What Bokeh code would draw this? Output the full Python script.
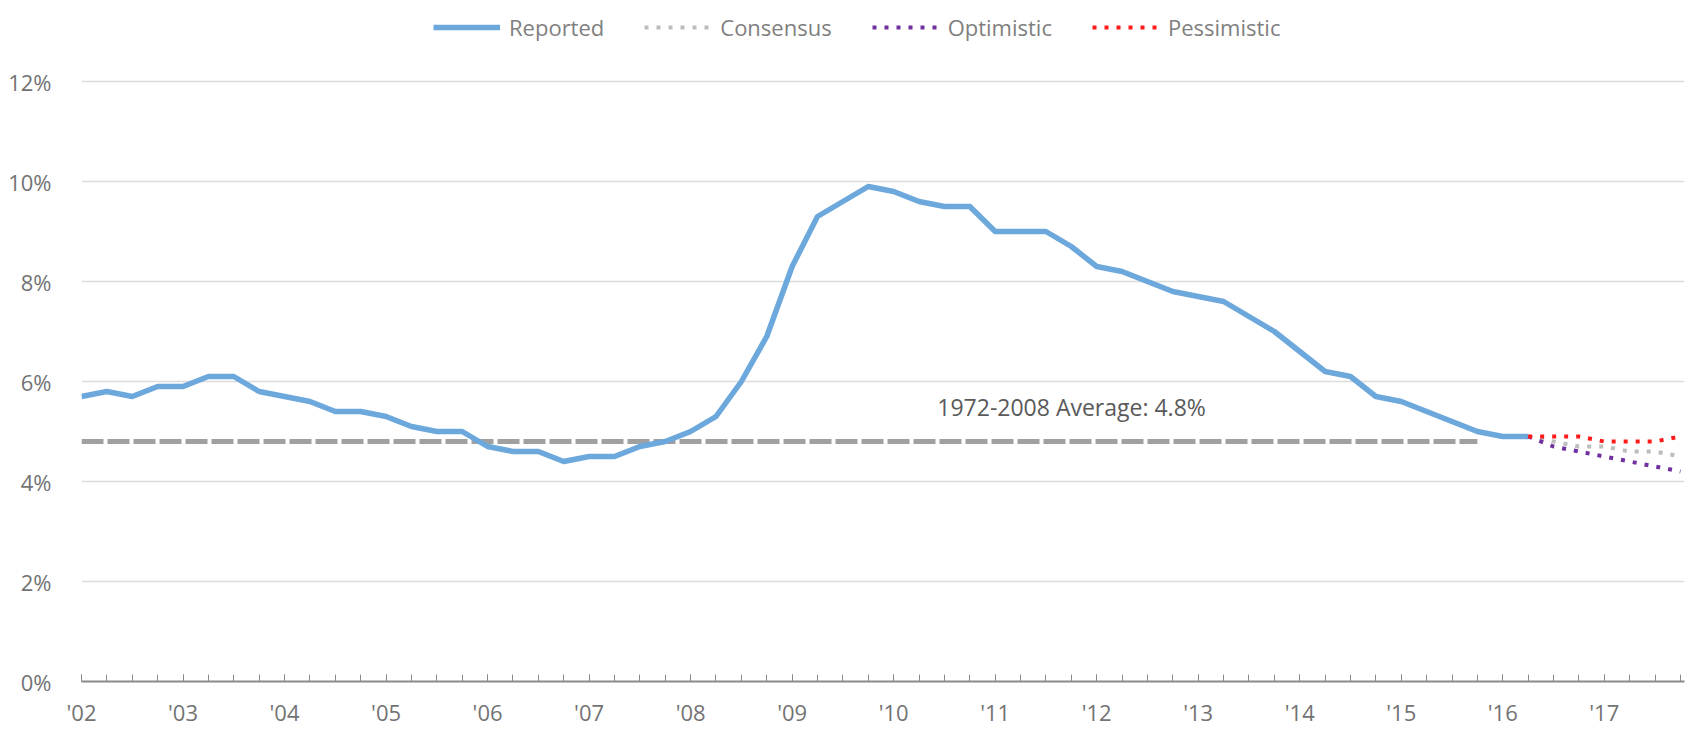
from bokeh.plotting import figure
from bokeh.models import Range1d, FixedTicker, Label, Legend
from bokeh.embed import file_html
from bokeh.resources import INLINE

# ---------------- data ----------------
reported_start = "2002Q1"
reported = [5.7, 5.8, 5.7, 5.9,
            5.9, 6.1, 6.1, 5.8,
            5.7, 5.6, 5.4, 5.4,
            5.3, 5.1, 5.0, 5.0,
            4.7, 4.6, 4.6, 4.4,
            4.5, 4.5, 4.7, 4.8,
            5.0, 5.3, 6.0, 6.9,
            8.3, 9.3, 9.6, 9.9,
            9.8, 9.6, 9.5, 9.5,
            9.0, 9.0, 9.0, 8.7,
            8.3, 8.2, 8.0, 7.8,
            7.7, 7.6, 7.3, 7.0,
            6.6, 6.2, 6.1, 5.7,
            5.6, 5.4, 5.2, 5.0,
            4.9, 4.9]
forecast_start = "2016Q2"
consensus = [4.9, 4.8, 4.7, 4.7, 4.6, 4.6, 4.5]
optimistic = [4.9, 4.7, 4.6, 4.5, 4.4, 4.3, 4.2]
pessimistic = [4.9, 4.9, 4.9, 4.8, 4.8, 4.8, 4.9]
average_value = 4.8
average_start = "2002Q1"
average_end = "2015Q4"
average_label = "1972-2008 Average: 4.8%"
years = list(range(2002, 2018))
year_labels = ["'02", "'03", "'04", "'05", "'06", "'07", "'08", "'09",
               "'10", "'11", "'12", "'13", "'14", "'15", "'16", "'17"]
y_ticks = [0, 2, 4, 6, 8, 10, 12]
y_labels = ["0%", "2%", "4%", "6%", "8%", "10%", "12%"]


def qpos(label):
    y, q = label.split("Q")
    return int(y) + (int(q) - 1) / 4.0


def series_x(start, n):
    s = qpos(start)
    return [s + i / 4.0 for i in range(n)]


x_rep = series_x(reported_start, len(reported))
x_fc = series_x(forecast_start, len(consensus))

FONT = "Open Sans"
TXT = "#737373"
FRAME_H = 681

p = figure(width=1692, height=728, frame_width=1603, frame_height=FRAME_H,
           min_border_left=81, min_border_right=8, min_border_top=0,
           min_border_bottom=47,
           x_range=Range1d(2002, 2017.79), y_range=Range1d(0, 13.62),
           output_backend="svg", toolbar_location=None)
p.outline_line_color = None
p.background_fill_color = "white"

# grid
p.xgrid.visible = False
p.ygrid.ticker = FixedTicker(ticks=y_ticks)
p.ygrid.grid_line_color = "#dcdcdc"
p.ygrid.grid_line_width = 1.5

# y axis
p.yaxis.ticker = FixedTicker(ticks=y_ticks)
p.yaxis.major_label_overrides = {t: l for t, l in zip(y_ticks, y_labels)}
p.yaxis.axis_line_color = None
p.yaxis.major_tick_line_color = None
p.yaxis.minor_tick_line_color = None
p.yaxis.major_label_standoff = 24
p.yaxis.major_label_text_font = FONT
p.yaxis.major_label_text_font_size = "22px"
p.yaxis.major_label_text_color = TXT

# x axis
quarters = [y + q / 4.0 for y in years for q in range(4)]
p.xaxis.ticker = FixedTicker(ticks=years, minor_ticks=quarters)
p.xaxis.major_label_overrides = {y: l for y, l in zip(years, year_labels)}
p.xaxis.axis_line_color = "#8a8a8a"
p.xaxis.axis_line_width = 2
p.xaxis.major_tick_in = 7
p.xaxis.major_tick_out = 0
p.xaxis.minor_tick_in = 7
p.xaxis.minor_tick_out = 0
p.xaxis.major_tick_line_color = "#8a8a8a"
p.xaxis.minor_tick_line_color = "#8a8a8a"
p.xaxis.major_label_standoff = 15
p.xaxis.major_label_text_font = FONT
p.xaxis.major_label_text_font_size = "22px"
p.xaxis.major_label_text_color = TXT

# average line
p.line([qpos(average_start), qpos(average_end)], [average_value, average_value],
       line_color="#a0a0a0", line_width=5, line_dash="22 4")

# reported and forecasts
r_rep = p.line(x_rep, reported, line_color="#6ca8dc", line_width=5.5,
               line_join="round")
r_con = p.line(x_fc, consensus, line_color="#bdbdbd", line_width=4,
               line_dash="4 8")
r_opt = p.line(x_fc, optimistic, line_color="#7030a0", line_width=4,
               line_dash="4 8")
r_pes = p.line(x_fc, pessimistic, line_color="#ff1a1a", line_width=4,
               line_dash="4 8")

p.add_layout(Label(x=2010.43, y=5.49, text=average_label, text_font=FONT,
                   text_font_size="23px", text_color="#5a5a5a",
                   text_baseline="middle", text_align="left"))

LEG_H = 36
legend = Legend(items=[("Reported", [r_rep]), ("Consensus", [r_con]),
                       ("Optimistic", [r_opt]), ("Pessimistic", [r_pes])],
                orientation="horizontal",
                location=(352, FRAME_H - (24 + LEG_H // 2)),
                glyph_width=67, glyph_height=20, label_standoff=9,
                spacing=40, padding=3, margin=0,
                border_line_color=None, background_fill_alpha=0,
                label_text_font=FONT, label_text_font_size="22px",
                label_text_color="#808080")
p.add_layout(legend, "center")

open("out.html", "w").write(file_html(p, INLINE))
